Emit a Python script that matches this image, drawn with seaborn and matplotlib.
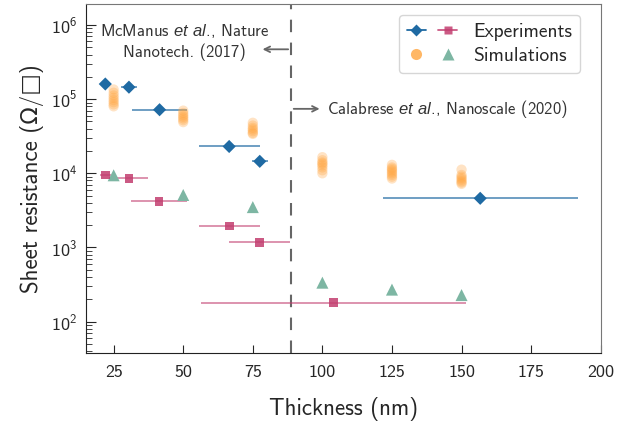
import numpy as np
import pandas as pd
import seaborn as sns
import matplotlib.pyplot as plt
from matplotlib.lines import Line2D
from matplotlib.legend_handler import HandlerTuple

# experiments (blue): thickness, half-width, sheet resistance
exp_blue_x = [22, 30.5, 41.5, 66.5, 77.5, 156.7]
exp_blue_xerr = [2, 2.8, 10, 11, 2.9, 35]
exp_blue_y = [1.6e5, 1.45e5, 7.2e4, 2.3e4, 1.45e4, 4.6e3]

# experiments (magenta)
exp_mag_x = [22, 30.5, 41.3, 66.5, 77.3, 104]
exp_mag_xerr = [2, 7, 10, 11, 11, 47.5]
exp_mag_y = [9.5e3, 8.6e3, 4.2e3, 1.95e3, 1.18e3, 180]

# simulations (green triangles)
sim_tri_x = [25, 50, 75, 100, 125, 150]
sim_tri_y = [9.4e3, 5.1e3, 3.5e3, 335, 270, 228]

# simulations (orange circles), several runs per thickness
sim_circ_25 = [1.35e5, 1.22e5, 1.12e5, 1.04e5, 9.7e4, 9.1e4, 8.5e4, 8.0e4]
sim_circ_50 = [7.0e4, 6.5e4, 6.1e4, 5.8e4, 5.5e4, 5.2e4, 4.9e4]
sim_circ_75 = [4.8e4, 4.4e4, 4.1e4, 3.9e4, 3.7e4, 3.5e4, 3.4e4]
sim_circ_100 = [1.65e4, 1.5e4, 1.4e4, 1.35e4, 1.28e4, 1.2e4, 1.1e4, 1.0e4]
sim_circ_125 = [1.3e4, 1.2e4, 1.15e4, 1.1e4, 1.05e4, 1.0e4, 9.5e3, 9.0e3, 8.5e3]
sim_circ_150 = [1.12e4, 9.5e3, 9.0e3, 8.6e3, 8.2e3, 7.8e3, 7.5e3, 7.2e3]

cutoff = 88.7

blue = '#1f6aa3'
magenta = '#c23d6f'
orange = '#ffa53f'
green = '#7db6a3'

sns.set_style('ticks')
plt.rcParams['font.family'] = ['cmss10', 'DejaVu Sans']
plt.rcParams['mathtext.fontset'] = 'custom'
plt.rcParams['mathtext.rm'] = 'cmss10'
plt.rcParams['mathtext.it'] = 'Liberation Sans:italic'
plt.rcParams['axes.unicode_minus'] = False

fig = plt.figure(figsize=(6.31, 4.24), dpi=100)
ax = fig.add_axes([0.136, 0.168, 0.816, 0.823])

circ = pd.DataFrame({
    'x': [25] * len(sim_circ_25) + [50] * len(sim_circ_50) + [75] * len(sim_circ_75)
         + [100] * len(sim_circ_100) + [125] * len(sim_circ_125) + [150] * len(sim_circ_150),
    'y': sim_circ_25 + sim_circ_50 + sim_circ_75 + sim_circ_100 + sim_circ_125 + sim_circ_150,
})
sns.scatterplot(data=circ, x='x', y='y', ax=ax, color=orange, marker='o', s=55,
                alpha=0.3, edgecolor='none', zorder=3)

tri = pd.DataFrame({'x': sim_tri_x, 'y': sim_tri_y})
sns.scatterplot(data=tri, x='x', y='y', ax=ax, color=green, marker='^', s=75,
                edgecolor='none', zorder=3)

ax.errorbar(exp_mag_x, exp_mag_y, xerr=exp_mag_xerr, fmt='none', ecolor=magenta,
            alpha=0.6, elinewidth=1.3, zorder=2)
mag = pd.DataFrame({'x': exp_mag_x, 'y': exp_mag_y})
sns.scatterplot(data=mag, x='x', y='y', ax=ax, color=magenta, marker='s', s=40,
                alpha=0.85, edgecolor='none', zorder=4)

ax.errorbar(exp_blue_x, exp_blue_y, xerr=exp_blue_xerr, fmt='none', ecolor=blue,
            alpha=0.7, elinewidth=1.3, zorder=2)
bl = pd.DataFrame({'x': exp_blue_x, 'y': exp_blue_y})
sns.scatterplot(data=bl, x='x', y='y', ax=ax, color=blue, marker='D', s=45,
                edgecolor='none', zorder=4)

ax.axvline(cutoff, color='#666666', ls=(0, (6, 5)), lw=1.5, zorder=1)

ax.set_yscale('log')
ax.set_xlim(15, 200)
ax.set_ylim(38, 1.93e6)
ax.set_xticks([25, 50, 75, 100, 125, 150, 175, 200])
ax.tick_params(axis='both', which='both', direction='in', top=False, right=False,
               labelsize=13)
ax.tick_params(axis='y', which='major', length=7, pad=6)
ax.tick_params(axis='y', which='minor', length=4)
ax.tick_params(axis='x', which='major', length=6, pad=9)
for s in ['top', 'right']:
    ax.spines[s].set_color('#777777')
for s in ['left', 'bottom']:
    ax.spines[s].set_color('#222222')

ax.set_xlabel('Thickness (nm)', fontsize=16.5, labelpad=12)
ax.set_ylabel('Sheet resistance (Ω/□)', fontsize=16.5, labelpad=5)

# annotations
ax.annotate('', xy=(77.5, 4.7e5), xytext=(cutoff, 4.7e5),
            arrowprops=dict(arrowstyle='->', color='#666666', lw=1.3))
ax.text(50.5, 6.0e5, 'McManus $\\mathit{et\\ al.}\\!$, Nature\nNanotech. (2017)',
        ha='center', va='center', fontsize=12, color='#333333', linespacing=1.3)
ax.annotate('', xy=(100, 7.4e4), xytext=(cutoff, 7.4e4),
            arrowprops=dict(arrowstyle='->', color='#666666', lw=1.3))
ax.text(101.5, 7.4e4, 'Calabrese $\\mathit{et\\ al.}\\!$, Nanoscale (2020)',
        ha='left', va='center', fontsize=12, color='#333333')

h_blue = Line2D([], [], color=blue, marker='D', ms=6, lw=1.3, mec='none')
h_mag = Line2D([], [], color=magenta, marker='s', ms=6, lw=1.3, mec='none', alpha=0.85)
h_or = Line2D([], [], color=orange, marker='o', ms=8, ls='none', mec='none', alpha=0.8)
h_gr = Line2D([], [], color=green, marker='^', ms=8, ls='none', mec='none')
ax.legend([(h_blue, h_mag), (h_or, h_gr)], ['Experiments', 'Simulations'],
          handler_map={tuple: HandlerTuple(ndivide=None, pad=0.6)},
          loc='upper right', fontsize=14, frameon=True, handlelength=2.6,
          borderpad=0.4, labelspacing=0.3, handletextpad=0.8,
          bbox_to_anchor=(0.978, 0.995))

fig.savefig('out.png', dpi=100)
